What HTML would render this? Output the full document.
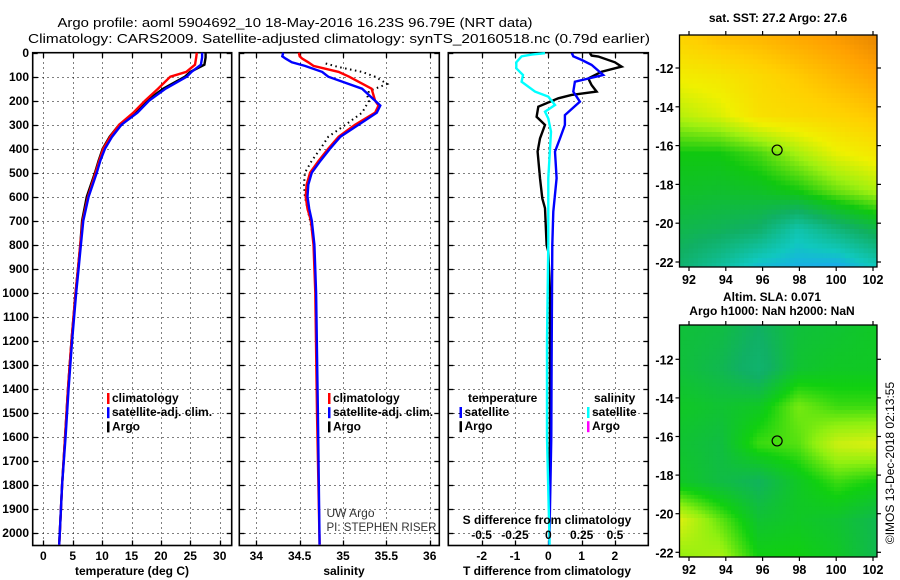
<!DOCTYPE html>
<html><head><meta charset="utf-8">
<style>
html,body{margin:0;padding:0;background:#fff;}
svg{display:block;font-family:"Liberation Sans",sans-serif;font-weight:bold;}
text{fill:#000;}
.grid{shape-rendering:crispEdges;}
</style></head>
<body>
<svg id="fig" width="900" height="580" viewBox="0 0 900 580" xmlns="http://www.w3.org/2000/svg">
<text x="295" y="27" font-size="13" text-anchor="middle" textLength="475" lengthAdjust="spacingAndGlyphs" style="font-weight:normal">Argo profile: aoml 5904692_10 18-May-2016 16.23S 96.79E (NRT data)</text>
<text x="339" y="43" font-size="13" text-anchor="middle" textLength="622" lengthAdjust="spacingAndGlyphs" style="font-weight:normal">Climatology: CARS2009. Satellite-adjusted climatology: synTS_20160518.nc (0.79d earlier)</text>
<g id="plots"></g>
</svg>
<script>
// ---- depth axis ----
const depthTicks = [0,100,200,300,400,500,600,700,800,900,1000,1100,1200,1300,1400,1500,1600,1700,1800,1900,2000];
// ---- temperature panel data ----
const tDepth = [0,20,50,80,100,150,200,250,300,350,400,450,500,600,700,800,900,1000,1200,1400,1600,1800,2000,2050];
const tArgo  = [27.6,27.6,27.4,25.0,24.1,20.4,17.6,15.8,12.9,11.3,10.1,9.4,8.8,7.4,6.6,6.3,5.9,5.5,4.8,4.2,3.7,3.2,2.8,2.7];
const tClim  = [26.1,26.0,25.8,24.3,21.6,19.5,17.3,15.3,12.9,11.4,10.2,9.5,8.9,7.6,6.7,6.3,5.9,5.5,4.8,4.2,3.7,3.2,2.8,2.7];
const tSat   = [27.0,27.0,26.8,25.2,24.4,20.8,18.0,16.0,13.3,11.7,10.5,9.7,9.1,7.7,6.8,6.4,6.0,5.6,4.9,4.3,3.8,3.2,2.8,2.7];
const tTicks = [0,5,10,15,20,25,30];
// ---- salinity panel data ----
const sDepth = [0,15,25,40,55,80,100,150,200,220,250,300,350,400,450,500,550,600,650,700,800,1000,1500,2050];
const sClim  = [34.49,34.50,34.53,34.60,34.66,34.95,35.07,35.33,35.37,35.41,35.37,35.14,34.95,34.83,34.72,34.62,34.58,34.57,34.59,34.63,34.66,34.68,34.70,34.73];
const sSat   = [34.31,34.30,34.34,34.41,34.56,34.76,34.83,35.22,35.37,35.43,35.39,35.18,34.97,34.85,34.74,34.64,34.60,34.59,34.61,34.64,34.67,34.69,34.71,34.73];
const saDepth= [45,60,80,100,130,160,180,200,250,300,350,400,450,500,550,600,700,800];
const sArgo  = [34.80,34.95,35.22,35.37,35.51,35.30,35.28,35.30,35.22,35.03,34.83,34.74,34.64,34.56,34.55,34.56,34.62,34.67];
const sTicks = [34,34.5,35,35.5,36];
// ---- difference panel data ----
const dTDepth = [2,12,16,40,58,79,107,135,162,176,190,225,267,301,357,412,523,607,648,801,829,1000,1300,1600,1800];
const dTArgo  = [1.25,1.3,1.5,2.0,2.2,1.6,1.2,1.3,1.45,0.7,0.3,-0.3,-0.35,-0.1,-0.25,-0.32,-0.25,-0.18,-0.1,-0.05,0.0,0.05,0.05,0.05,0.03];
const dSDepth = [2,6,15,30,51,93,121,162,204,260,301,357,412,523,662,801,1000,1300,1600,2050];
const dTSat   = [0.7,0.72,0.75,1.0,1.3,1.65,0.8,0.75,0.95,0.5,0.5,0.35,0.2,0.25,0.15,0.12,0.11,0.1,0.09,0.03];
const dCDepth = [2,8,15,40,65,93,121,162,183,218,246,274,329,523,800,1200,1600,2050];
const dSSat   = [-0.025,-0.125,-0.2,-0.24,-0.24,-0.19,-0.2,-0.1,0.0,0.05,-0.025,0.0,0.02,0.0,0.0,-0.01,-0.01,0.01];
const dTTicks = [-2,-1,0,1,2];
const dSTicks = [-0.5,-0.25,0,0.25,0.5];
const dSTickLabels = ["-0.5","-0.25","0","0.25","0.5"];
// ---- maps (coarse fields, rows lat -10.5..-22.3, cols lon 91.5..102.2) ----
const sstField = [
 [0.74,0.78,0.80,0.83,0.86,0.90],
 [0.66,0.68,0.72,0.76,0.80,0.84],
 [0.58,0.62,0.70,0.72,0.74,0.77],
 [0.42,0.42,0.47,0.56,0.64,0.68],
 [0.38,0.37,0.38,0.42,0.50,0.56],
 [0.32,0.30,0.27,0.15,0.24,0.32],
 [0.26,0.18,0.08,0.05,0.03,0.12]];
const slaField = [
 [0.40,0.38,0.30,0.40,0.42,0.45],
 [0.40,0.35,0.25,0.42,0.45,0.45],
 [0.45,0.42,0.45,0.62,0.55,0.55],
 [0.42,0.38,0.55,0.58,0.75,0.78],
 [0.45,0.38,0.32,0.45,0.55,0.50],
 [0.78,0.60,0.42,0.45,0.42,0.35],
 [0.65,0.70,0.50,0.50,0.45,0.35]];
const mapLonTicks = [92,94,96,98,100,102];
const mapLatTicks = [-12,-14,-16,-18,-20,-22];
const argoLon = 96.79, argoLat = -16.23;

const NS="http://www.w3.org/2000/svg";
const root=document.getElementById('plots');
function mk(tag,attrs,parent){const e=document.createElementNS(NS,tag);for(const k in attrs)e.setAttribute(k,attrs[k]);(parent||root).appendChild(e);return e;}
function txt(s,x,y,size,anchor,parent){const t=mk('text',{x:x,y:y,'font-size':size,'text-anchor':anchor||'middle'},parent);t.textContent=s;return t;}

const TOP=52.7, BOT=545.5;
const yD = d => TOP + d*0.24;

function panel(name){
  const g=mk('g',{});
  
  
  return g;
}
function frame(g,x0,x1,xTickPx){
  depthTicks.forEach(d=>{
    const y=Math.round(yD(d))+0.5;
    if(d>0){ const l=mk('line',{class:'grid',x1:x0,x2:x1,y1:y,y2:y,stroke:'#000','stroke-width':1,'stroke-dasharray':'1,4'},g);
       }
    mk('line',{x1:x0,x2:x0+5,y1:y,y2:y,stroke:'#000','stroke-width':1.3},g);
    mk('line',{x1:x1-5,x2:x1,y1:y,y2:y,stroke:'#000','stroke-width':1.3},g);
  });
  xTickPx.forEach(xx=>{
    const x=Math.round(xx)+0.5;
    const l=mk('line',{class:'grid',x1:x,x2:x,y1:TOP,y2:BOT,stroke:'#000','stroke-width':1,'stroke-dasharray':'1,4'},g);
     
    mk('line',{x1:x,x2:x,y1:BOT-5,y2:BOT,stroke:'#000','stroke-width':1.3},g);
    mk('line',{x1:x,x2:x,y1:TOP,y2:TOP+5,stroke:'#000','stroke-width':1.3},g);
  });
  const r=mk('rect',{x:x0,y:TOP,width:x1-x0,height:BOT-TOP,fill:'none',stroke:'#000','stroke-width':1.6},g);
   
}
function line(g,xs,ds,xf,color,name,extra){
  const pts=xs.map((v,i)=>xf(v).toFixed(1)+','+yD(ds[i]).toFixed(1)).join(' ');
  const p=mk('polyline',Object.assign({points:pts,fill:'none',stroke:color,'stroke-width':2.4,'stroke-linejoin':'miter'},extra||{}),g);
  
  
  return p;
}
function legend(g,items,x,y){
  items.forEach((it,i)=>{
    const yy=y+i*14.2;
    const m=mk('rect',{x:x,y:yy-9,width:2.5,height:11,fill:it[1]},g);
     
    const t=txt(it[0],x+5,yy,12,'start',g);
     
  });
}

// depth labels
const yl=mk('g',{});
 
depthTicks.forEach(d=>{const t=txt(String(d),29,yD(d)+4.5,12,'end',yl);  });

// Panel 1: temperature
const xT = v => 43.3 + v*5.88;
const g1=panel('temperature-panel');
frame(g1,32.7,231.7,tTicks.map(xT));
line(g1,tArgo,tDepth,xT,'#000','argo-temperature-line');
line(g1,tClim,tDepth,xT,'#ff0000','climatology-temperature-line');
line(g1,tSat,tDepth,xT,'#0000ff','satellite-temperature-line');
tTicks.forEach(v=>{const t=txt(String(v),xT(v),560,12,'middle',g1);  });
{const t=txt('temperature (deg C)',132,575,12,'middle',g1);  }
legend(g1,[['climatology','#ff0000'],['satellite-adj. clim.','#0000ff'],['Argo','#000']],107,402);

// Panel 2: salinity
const xS = v => 256.3 + (v-34)*86.7;
const g2=panel('salinity-panel');
frame(g2,239.3,439.3,sTicks.map(xS));
line(g2,sArgo,saDepth,xS,'#000','argo-salinity-line',{'stroke-dasharray':'1.5,3.5','stroke-width':2});
line(g2,sClim,sDepth,xS,'#ff0000','climatology-salinity-line');
line(g2,sSat,sDepth,xS,'#0000ff','satellite-salinity-line');
sTicks.forEach(v=>{const t=txt(String(v),xS(v),560,12,'middle',g2);  });
{const t=txt('salinity',344,575,12,'middle',g2);  }
legend(g2,[['climatology','#ff0000'],['satellite-adj. clim.','#0000ff'],['Argo','#000']],328,402);
{const t=txt('UW Argo',326.5,517,12,'start',g2); t.setAttribute('style','font-weight:normal;fill:#333');  
 const u=txt('PI: STEPHEN RISER',326.5,531,12,'start',g2); u.setAttribute('style','font-weight:normal;fill:#333'); u.setAttribute('textLength','110'); u.setAttribute('lengthAdjust','spacingAndGlyphs');  }

// Panel 3: differences
const xDT = v => 548.3 + v*33.3;
const xDS = v => 548.3 + v*133.3;
const g3=panel('difference-panel');
frame(g3,448.3,648.3,dTTicks.map(xDT));
line(g3,dTArgo,dTDepth,xDT,'#000','argo-temperature-difference-line');
line(g3,dTSat,dSDepth,xDT,'#0000ff','satellite-temperature-difference-line');
line(g3,dSSat,dCDepth,xDS,'#00ffff','satellite-salinity-difference-line');
dTTicks.forEach(v=>{const t=txt(String(v),xDT(v),560,12,'middle',g3);  });
{const t=txt('T difference from climatology',547,575,12,'middle',g3);  }
{const t=txt('S difference from climatology',547,524,12,'middle',g3);  }
dSTicks.forEach((v,i)=>{const t=txt(dSTickLabels[i],xDS(v),539,12,'middle',g3);  });
{const t=txt('temperature',468,402,12,'start',g3);  
 const u=txt('salinity',594,402,12,'start',g3);  }
legend(g3,[['satellite','#0000ff'],['Argo','#000']],459.5,416);
legend(g3,[['satellite','#00ffff'],['Argo','#ff00ff']],587,416);

// Maps
function lerpC(stops,v){
  v=Math.max(0,Math.min(1,v));
  for(let i=1;i<stops.length;i++){ if(v<=stops[i][0]){const a=stops[i-1],b=stops[i];const t=(v-a[0])/(b[0]-a[0]||1);
    return 'rgb('+[0,1,2].map(k=>Math.round(a[1][k]+(b[1][k]-a[1][k])*t)).join(',')+')';}}
  const s=stops[stops.length-1][1];return 'rgb('+s.join(',')+')';
}
const sstStops=[[0,[30,160,255]],[0.12,[16,200,190]],[0.28,[16,176,100]],[0.42,[16,200,16]],[0.55,[160,240,16]],[0.65,[240,240,0]],[0.75,[255,208,0]],[0.85,[255,160,0]],[0.92,[224,128,0]],[1,[255,0,0]]];
const slaStops=[[0,[16,192,160]],[0.3,[16,176,100]],[0.5,[16,208,16]],[0.65,[144,240,16]],[0.8,[232,240,16]],[1,[240,208,16]]];
function field(F,lon,lat){
  const c=(lon-91.5)/(102.2-91.5)*(F[0].length-1), r=(-10.5-lat)/(22.3-10.5)*(F.length-1);
  const c0=Math.max(0,Math.min(F[0].length-2,Math.floor(c))), r0=Math.max(0,Math.min(F.length-2,Math.floor(r)));
  const fc=Math.max(0,Math.min(1,c-c0)), fr=Math.max(0,Math.min(1,r-r0));
  return F[r0][c0]*(1-fc)*(1-fr)+F[r0][c0+1]*fc*(1-fr)+F[r0+1][c0]*(1-fc)*fr+F[r0+1][c0+1]*fc*fr;
}
function map(name,F,stops,x0,x1,y0,y1,yLatA,yLatB,cell){
  const g=mk('g',{});
   
  const lonX = lon => 689 + (lon-92)*18.4;
  const latY = lat => yLatA + (-12-lat)*(yLatB-yLatA)/10;
  const lonMin=92+(x0-689)/18.4, lonMax=92+(x1-689)/18.4;
  const latTop=-12-(y0-yLatA)*10/(yLatB-yLatA), latBot=-12-(y1-yLatA)*10/(yLatB-yLatA);
  for(let la=latTop; la>latBot; la-=cell){
    for(let lo=lonMin; lo<lonMax; lo+=cell){
      const v=field(F,lo+cell/2,la-cell/2);
      const xa=lonX(lo), ya=latY(la);
      const w=Math.min(lonX(lo+cell),x1)-xa, h=Math.min(latY(la-cell),y1)-ya;
      const r=mk('rect',{x:xa.toFixed(2),y:ya.toFixed(2),width:(w+0.4).toFixed(2),height:(h+0.4).toFixed(2),fill:lerpC(stops,v)},g);
       
    }
  }
  const fr=mk('rect',{x:x0,y:y0,width:x1-x0,height:y1-y0,fill:'none',stroke:'#000','stroke-width':1.3},g);
   
  mapLatTicks.forEach(l=>{const y=latY(l);
    mk('line',{x1:x0-4,x2:x0,y1:y,y2:y,stroke:'#000','stroke-width':1.2},g);
    mk('line',{x1:x1,x2:x1+4,y1:y,y2:y,stroke:'#000','stroke-width':1.2},g);
    const t=txt(String(l),x0-6,y+5,12.5,'end',g);  });
  mapLonTicks.forEach(l=>{const x=lonX(l);
    mk('line',{x1:x,x2:x,y1:y1,y2:y1+4,stroke:'#000','stroke-width':1.2},g);
    mk('line',{x1:x,x2:x,y1:y0-4,y2:y0,stroke:'#000','stroke-width':1.2},g);
    const t=txt(String(l),x,y1+17,12.5,'middle',g);  });
  const c=mk('circle',{cx:lonX(argoLon),cy:latY(argoLat),r:5,fill:'none',stroke:'#000','stroke-width':1.2},g);
   
  return g;
}
map('sst-map',sstField,sstStops,679.5,877,35,267,68,262,0.25);
map('sla-map',slaField,slaStops,679.5,877,325,557,359.3,552.3,0.2);
{const t=txt('sat. SST: 27.2  Argo: 27.6',778,22,12,'middle');  
 const a=txt('Altim. SLA: 0.071',772,301,12,'middle');  
 const b=txt('Argo h1000: NaN h2000: NaN',772,315,12,'middle');  
 const c=txt('©IMOS 13-Dec-2018 02:13:55',0,0,12,'middle'); c.setAttribute('transform','translate(894,463) rotate(-90)'); c.setAttribute('style','font-weight:normal');  }
</script>
</body></html>
